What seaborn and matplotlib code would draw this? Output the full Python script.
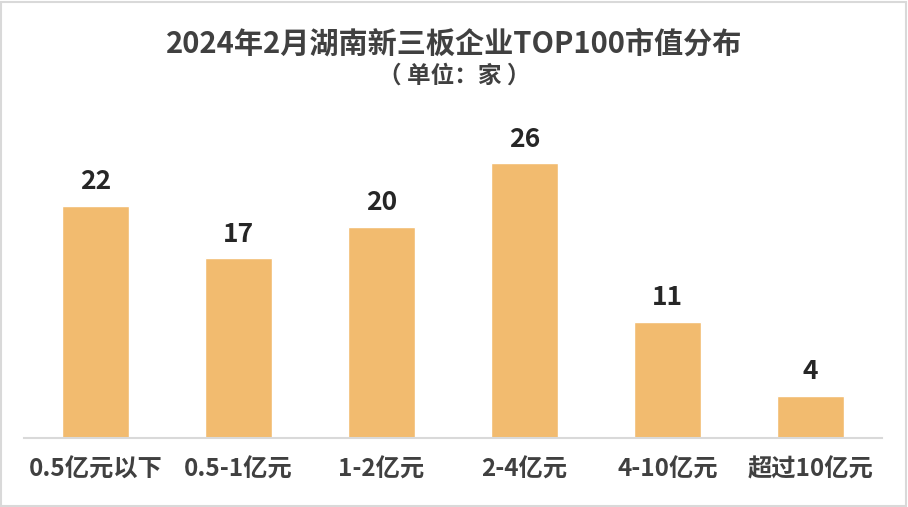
import pandas as pd
import seaborn as sns
import matplotlib.pyplot as plt

categories = ["0.5亿元以下", "0.5-1亿元", "1-2亿元", "2-4亿元", "4-10亿元", "超过10亿元"]
counts = [22, 17, 20, 26, 11, 4]

df = pd.DataFrame({"range": categories, "count": counts})

sns.set_theme(style="white")
plt.rcParams["font.family"] = ["Noto Sans CJK SC", "DejaVu Sans"]

fig = plt.figure(figsize=(9.08, 5.07), dpi=100)
ax = fig.add_axes([0.0264, 0.136, 0.945, 0.667])

sns.barplot(data=df, x="range", y="count", color="#F2BB6F", saturation=1,
            width=0.47, ax=ax, zorder=2)

for i, v in enumerate(counts):
    ax.text(i, v + 1.0, str(v), ha="center", va="bottom", fontsize=19,
            fontweight="bold", color="#262626")

ax.set_xlim(-0.5, 5.5)
ax.set_ylim(0, 32)
ax.set_xlabel("")
ax.set_ylabel("")
ax.set_yticks([])
for s in ["top", "right", "left"]:
    ax.spines[s].set_visible(False)
ax.spines["bottom"].set_color("#D9D9D9")
ax.spines["bottom"].set_linewidth(1.5)
ax.tick_params(axis="x", length=0, pad=14)
for lbl in ax.get_xticklabels():
    lbl.set_fontsize(17.5)
    lbl.set_fontweight("bold")
    lbl.set_color("#404040")

fig.text(0.5, 0.913, "2024年2月湖南新三板企业TOP100市值分布", ha="center", va="center",
         fontsize=21, fontweight="bold", color="#404040")
fig.text(0.5, 0.850, "（ 单位：家 ）", ha="center", va="center",
         fontsize=17, fontweight="bold", color="#404040")

fig.patches.append(plt.Rectangle((0.001, 0.002), 0.997, 0.995, transform=fig.transFigure,
                                 fill=False, edgecolor="#D9D9D9", linewidth=1.5))

fig.savefig("out.png", dpi=100)
